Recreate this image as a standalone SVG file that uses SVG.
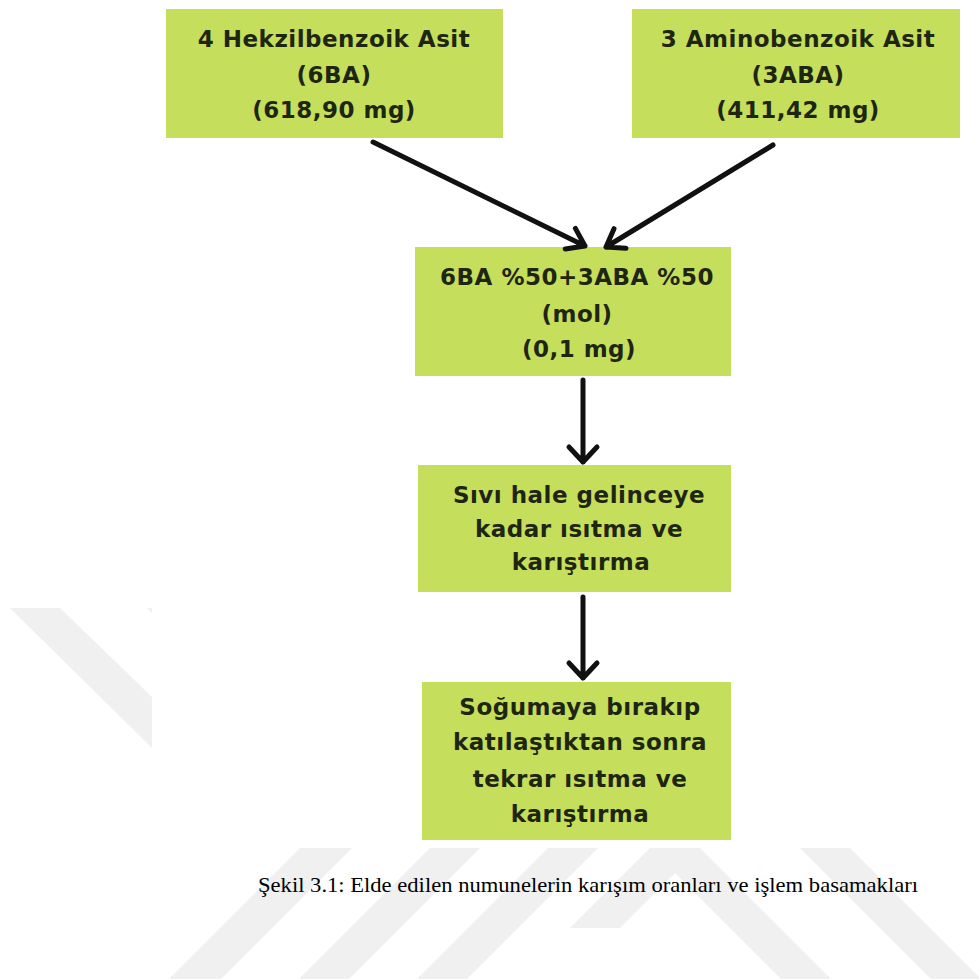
<svg xmlns="http://www.w3.org/2000/svg" width="979" height="979" viewBox="0 0 979 979">
<style>
.box{fill:#c5df5c;}
.t{font-family:"DejaVu Sans",sans-serif;font-weight:bold;font-size:23px;letter-spacing:0.5px;fill:#1e2612;text-anchor:middle;}
.cap{font-family:"Liberation Serif",serif;font-size:22px;fill:#000;}
.wm{fill:#f0f0f0;}
.ar{fill:none;stroke:#111;stroke-width:5;stroke-linecap:round;stroke-linejoin:round;}
</style>
<rect width="979" height="979" fill="#fff"/>
<g id="watermark">
<polygon class="wm" points="10,608 60,608 152,697 152,748"/>
<polygon class="wm" points="147,608 152,608 152,613"/>
<polygon class="wm" points="300,848 352,848 221,979 169,979"/>
<polygon class="wm" points="430,848 480,848 349,979 299,979"/>
<polygon class="wm" points="548,848 598,848 467,979 417,979"/>
<polygon class="wm" points="650,848 700,848 620,928 570,928"/>
<polygon class="wm" points="650,848 700,848 831,979 781,979"/>
<polygon class="wm" points="800,848 850,848 979,977 979,979 931,979"/>
</g>
<g id="n1"><rect class="box" x="166" y="9" width="337" height="129"/>
<text class="t" x="334" y="47">4 Hekzilbenzoik Asit</text>
<text class="t" x="334" y="83">(6BA)</text>
<text class="t" x="334" y="118">(618,90 mg)</text></g>
<g id="n2"><rect class="box" x="632" y="9" width="328" height="129"/>
<text class="t" x="798" y="47">3 Aminobenzoik Asit</text>
<text class="t" x="798" y="83">(3ABA)</text>
<text class="t" x="798" y="118">(411,42 mg)</text></g>
<g id="n3"><rect class="box" x="415" y="247" width="316" height="129"/>
<text class="t" x="577" y="285">6BA %50+3ABA %50</text>
<text class="t" x="577" y="322">(mol)</text>
<text class="t" x="579" y="357">(0,1 mg)</text></g>
<g id="n4"><rect class="box" x="418" y="465" width="313" height="127"/>
<text class="t" x="579" y="503">Sıvı hale gelinceye</text>
<text class="t" x="579" y="537">kadar ısıtma ve</text>
<text class="t" x="581" y="570">karıştırma</text></g>
<g id="n5"><rect class="box" x="422" y="682" width="309" height="158"/>
<text class="t" x="580" y="715">Soğumaya bırakıp</text>
<text class="t" x="580" y="750">katılaştıktan sonra</text>
<text class="t" x="580" y="787">tekrar ısıtma ve</text>
<text class="t" x="580" y="822">karıştırma</text></g>
<g id="connectors">
<path class="ar" d="M373,142 L585,246 M575.4,228.4 L585,246 L565.2,249"/>
<path class="ar" d="M773,145 L606,247 M614,228.7 L606,247 L626,248.3"/>
<path class="ar" d="M583,380 L583,462 M569,447 L583,462 L597,447"/>
<path class="ar" d="M583,597 L583,678 M569,663 L583,678 L597,663"/>
</g>
<text class="cap" x="258" y="892" textLength="660" lengthAdjust="spacingAndGlyphs">Şekil 3.1: Elde edilen numunelerin karışım oranları ve işlem basamakları</text>
</svg>
